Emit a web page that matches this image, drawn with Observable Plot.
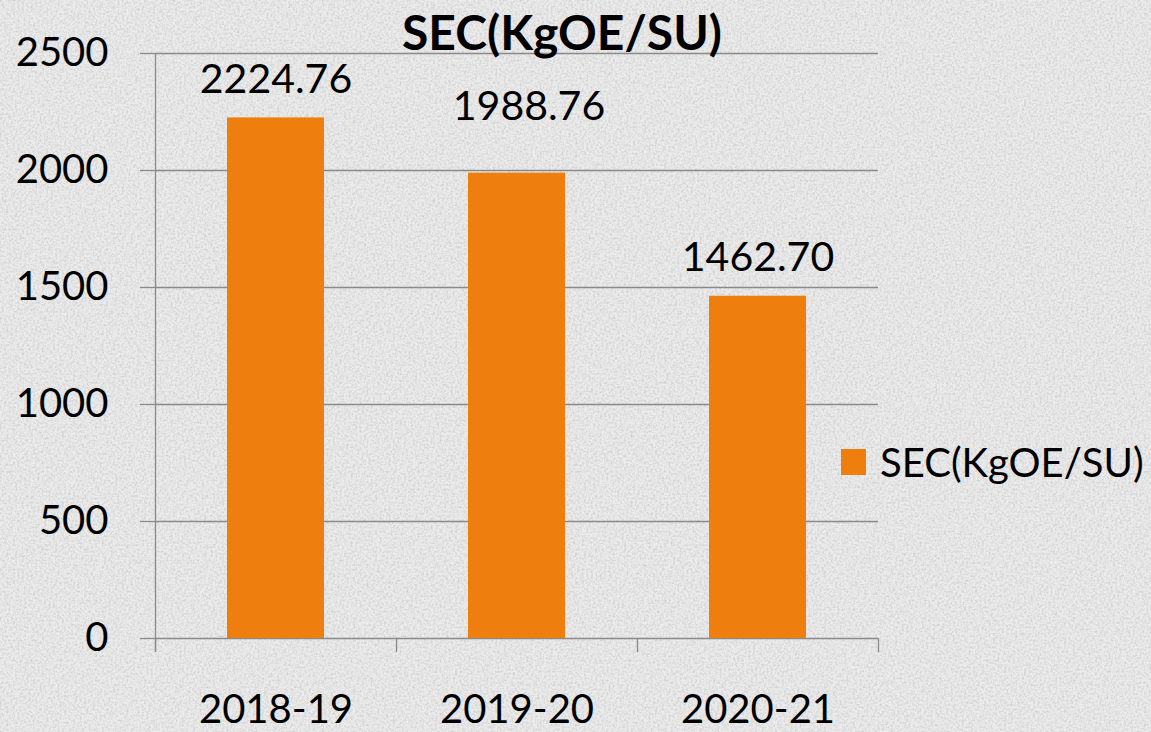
<!DOCTYPE html>
<html>
<head>
<meta charset="utf-8">
<script src="https://cdn.jsdelivr.net/npm/d3@7"></script>
<script src="https://cdn.jsdelivr.net/npm/@observablehq/plot@0.6"></script>
<style>
  html, body { margin: 0; padding: 0; }
  body { width: 1151px; height: 732px; overflow: hidden; background: #e4e4e4; font-family: Lato, "Open Sans", sans-serif; }
  #wrap { position: relative; width: 1151px; height: 732px; }
  #noise { position: absolute; left: 0; top: 0; }
  #chart { position: absolute; left: 0; top: 0; }
  #title { position: absolute; left: 0; width: 1124px; top: 3px; text-align: center; font-weight: bold; font-size: 48px; color: #000; }
  #legend { position: absolute; left: 841px; top: 438px; display: flex; align-items: center; font-size: 40px; color: #000; }
  #legend .sw { width: 25px; height: 26px; margin-right: 14px; }
</style>
</head>
<body>
<div id="wrap">
  <svg id="noise" width="1151" height="732">
    <filter id="nf">
      <feTurbulence type="fractalNoise" baseFrequency="0.45" numOctaves="3" seed="4"/>
      <feColorMatrix type="matrix" values="0 0 0 0 0.5  0 0 0 0 0.5  0 0 0 0 0.5  0 0 0 -2.2 1.35"/>
    </filter>
    <rect width="1151" height="732" fill="#ebebeb"/>
    <rect width="1151" height="732" filter="url(#nf)" opacity="0.55"/>
  </svg>
  <div id="chart"></div>
  <div id="title"></div>
  <div id="legend"></div>
</div>
<script>
const title = "SEC(KgOE/SU)";
const seriesName = "SEC(KgOE/SU)";
const years = ["2018-19", "2019-20", "2020-21"];
const values = [2224.76, 1988.76, 1462.70];
const labels = ["2224.76", "1988.76", "1462.70"];
const yTicks = [0, 500, 1000, 1500, 2000, 2500];

const barColor = "#ee7f0e";
const gridColor = "#8a8a8a";
const data = years.map((y, i) => ({year: y, value: values[i], label: labels[i]}));

const W = 1151, H = 732;
const mL = 155, mR = 273, mT = 53, mB = 94;
const bw = (W - mL - mR) / years.length;
const font = "Lato, 'Open Sans', sans-serif";

const chart = Plot.plot({
  width: W, height: H,
  marginLeft: mL, marginRight: mR, marginTop: mT, marginBottom: mB,
  style: {background: "transparent", fontFamily: font, color: "#000"},
  x: {domain: years, padding: 0},
  y: {domain: [0, 2500]},
  marks: [
    Plot.gridY(yTicks, {stroke: gridColor, strokeOpacity: 1, strokeWidth: 1.3}),
    Plot.barY(data, {x: "year", y: "value", fill: barColor, insetLeft: 72, insetRight: 72}),
    Plot.ruleX(data, {x: "year", dx: -bw / 2, y1: -60, y2: 0, stroke: gridColor, strokeWidth: 1.3}),
    Plot.ruleX(data.slice(-1), {x: "year", dx: bw / 2, y1: -60, y2: 0, stroke: gridColor, strokeWidth: 1.3}),
    Plot.ruleX(data.slice(0, 1), {x: "year", dx: -bw / 2, y1: -60, y2: 2500, stroke: gridColor, strokeWidth: 1.3}),
    Plot.axisY(yTicks, {tickSize: 15, tickPadding: 32, stroke: gridColor, strokeWidth: 1.3, fontSize: 40, fill: "#000", label: null, tickFormat: d => String(d)}),
    Plot.axisX({tickSize: 0, tickPadding: 56, fontSize: 40, fill: "#000", label: null}),
    Plot.text(data, {filter: d => d.year !== "2019-20", x: "year", y: "value", text: "label", dy: -38, fontSize: 41, fill: "#000"}),
    Plot.text(data, {filter: d => d.year === "2019-20", x: "year", y: "value", text: "label", dx: 12, dy: -66, fontSize: 41, fill: "#000"})
  ]
});
document.getElementById("chart").appendChild(chart);
document.getElementById("title").textContent = title;
const lg = document.getElementById("legend");
lg.innerHTML = `<div class="sw" style="background:${barColor}"></div><span>${seriesName}</span>`;
</script>
</body>
</html>
